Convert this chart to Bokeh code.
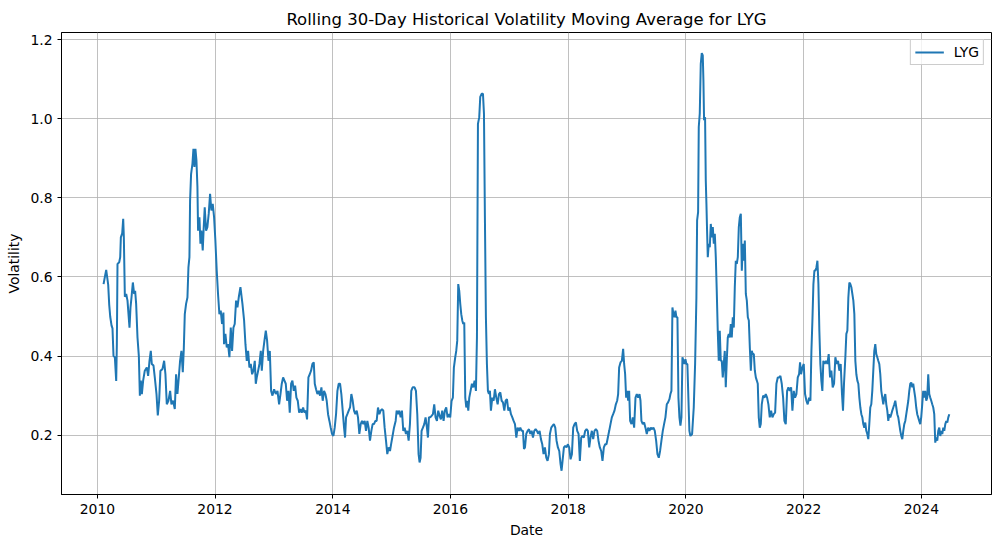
import pandas as pd
from bokeh.plotting import figure
from bokeh.models import (Range1d, FixedTicker, DatetimeTickFormatter, PrintfTickFormatter,
                          Legend, LegendItem, ColumnDataSource)
from bokeh.embed import file_html
from bokeh.resources import INLINE

# ---- data: (decimal year, 30-day rolling volatility) ----
seg_2010_2012 = [
    (2010.105, 0.582), (2010.127, 0.60), (2010.150, 0.618), (2010.184, 0.58), (2010.201, 0.53),
    (2010.218, 0.50), (2010.241, 0.477), (2010.257, 0.47), (2010.274, 0.40), (2010.297, 0.397),
    (2010.320, 0.337), (2010.331, 0.43), (2010.342, 0.633), (2010.371, 0.637), (2010.388, 0.65),
    (2010.399, 0.70), (2010.422, 0.71), (2010.439, 0.747), (2010.450, 0.70), (2010.467, 0.55),
    (2010.490, 0.557), (2010.512, 0.54), (2010.529, 0.506), (2010.546, 0.472), (2010.563, 0.523),
    (2010.580, 0.548), (2010.603, 0.586), (2010.625, 0.557), (2010.642, 0.565), (2010.659, 0.532),
    (2010.682, 0.447), (2010.705, 0.40), (2010.722, 0.30), (2010.739, 0.338), (2010.756, 0.304),
    (2010.778, 0.338), (2010.806, 0.363), (2010.840, 0.371), (2010.863, 0.35), (2010.886, 0.388),
    (2010.908, 0.413), (2010.925, 0.38), (2010.954, 0.376), (2010.976, 0.346), (2011.005, 0.304),
    (2011.027, 0.25), (2011.050, 0.287), (2011.072, 0.363), (2011.106, 0.367), (2011.135, 0.388),
    (2011.157, 0.354), (2011.180, 0.278), (2011.208, 0.287), (2011.237, 0.312), (2011.259, 0.278),
    (2011.287, 0.287), (2011.316, 0.266), (2011.338, 0.354), (2011.361, 0.304), (2011.384, 0.346),
    (2011.406, 0.388), (2011.429, 0.413), (2011.452, 0.359), (2011.469, 0.418), (2011.486, 0.506),
    (2011.508, 0.532), (2011.531, 0.548), (2011.548, 0.624), (2011.565, 0.65), (2011.576, 0.793),
    (2011.593, 0.86), (2011.616, 0.886), (2011.633, 0.924), (2011.650, 0.878), (2011.667, 0.924),
    (2011.684, 0.895), (2011.701, 0.827), (2011.712, 0.717), (2011.735, 0.751), (2011.752, 0.684),
    (2011.768, 0.717), (2011.791, 0.667), (2011.808, 0.726), (2011.825, 0.776), (2011.848, 0.717),
    (2011.870, 0.726), (2011.893, 0.76), (2011.916, 0.81), (2011.938, 0.768), (2011.961, 0.785),
    (2011.984, 0.751), (2012.006, 0.692), (2012.029, 0.616), (2012.051, 0.557), (2012.074, 0.506),
    (2012.097, 0.515), (2012.119, 0.481), (2012.142, 0.51), (2012.153, 0.43), (2012.176, 0.456),
    (2012.199, 0.422), (2012.221, 0.43), (2012.244, 0.397), (2012.267, 0.472), (2012.289, 0.413),
    (2012.312, 0.472), (2012.334, 0.481), (2012.357, 0.54), (2012.380, 0.523), (2012.402, 0.548),
    (2012.431, 0.574),
]

seg_2012_2014 = [
    (2012.465, 0.532), (2012.493, 0.49), (2012.516, 0.43), (2012.538, 0.388), (2012.561, 0.413),
    (2012.583, 0.371), (2012.606, 0.38), (2012.629, 0.354), (2012.651, 0.363), (2012.674, 0.388),
    (2012.691, 0.33), (2012.708, 0.346), (2012.731, 0.363), (2012.753, 0.38), (2012.776, 0.413),
    (2012.793, 0.363), (2012.816, 0.413), (2012.838, 0.439), (2012.861, 0.464), (2012.883, 0.439),
    (2012.906, 0.388), (2012.929, 0.413), (2012.951, 0.312), (2012.974, 0.30), (2013.002, 0.316),
    (2013.031, 0.304), (2013.059, 0.312), (2013.087, 0.278), (2013.110, 0.304), (2013.132, 0.33),
    (2013.155, 0.346), (2013.178, 0.338), (2013.200, 0.33), (2013.223, 0.287), (2013.246, 0.312),
    (2013.268, 0.257), (2013.291, 0.33), (2013.313, 0.338), (2013.336, 0.312), (2013.359, 0.325),
    (2013.381, 0.295), (2013.404, 0.287), (2013.427, 0.257), (2013.449, 0.266), (2013.472, 0.257),
    (2013.495, 0.27), (2013.517, 0.257), (2013.540, 0.262), (2013.562, 0.24), (2013.585, 0.346),
    (2013.608, 0.354), (2013.630, 0.363), (2013.653, 0.38), (2013.676, 0.384), (2013.693, 0.33),
    (2013.715, 0.316), (2013.738, 0.304), (2013.761, 0.312), (2013.783, 0.30), (2013.806, 0.321),
    (2013.828, 0.287), (2013.851, 0.312), (2013.874, 0.304), (2013.896, 0.287), (2013.919, 0.253),
    (2013.942, 0.236), (2013.964, 0.219), (2013.987, 0.203), (2014.010, 0.198), (2014.032, 0.219),
    (2014.055, 0.253), (2014.078, 0.312), (2014.100, 0.33), (2014.123, 0.33), (2014.145, 0.304),
    (2014.168, 0.262), (2014.191, 0.219), (2014.208, 0.194), (2014.225, 0.245), (2014.247, 0.253),
    (2014.270, 0.262), (2014.293, 0.27), (2014.315, 0.304), (2014.338, 0.287), (2014.360, 0.262),
    (2014.383, 0.253), (2014.406, 0.262), (2014.428, 0.245), (2014.451, 0.203), (2014.474, 0.228),
    (2014.496, 0.236), (2014.519, 0.228), (2014.542, 0.236), (2014.564, 0.211), (2014.587, 0.236),
    (2014.609, 0.219), (2014.632, 0.186), (2014.655, 0.211), (2014.677, 0.228), (2014.700, 0.228),
    (2014.723, 0.236), (2014.745, 0.236), (2014.768, 0.27), (2014.791, 0.253), (2014.813, 0.262),
    (2014.836, 0.266), (2014.858, 0.262), (2014.881, 0.219), (2014.904, 0.186), (2014.926, 0.152),
    (2014.949, 0.169), (2014.972, 0.16),
]

seg_2015_2017 = [
    (2014.994, 0.18), (2015.011, 0.194), (2015.040, 0.219), (2015.068, 0.236), (2015.085, 0.262),
    (2015.108, 0.253), (2015.130, 0.262), (2015.153, 0.245), (2015.175, 0.262), (2015.198, 0.211),
    (2015.221, 0.219), (2015.243, 0.203), (2015.266, 0.211), (2015.289, 0.186), (2015.311, 0.228),
    (2015.334, 0.312), (2015.357, 0.321), (2015.390, 0.321), (2015.413, 0.312), (2015.436, 0.253),
    (2015.458, 0.152), (2015.475, 0.131), (2015.492, 0.143), (2015.509, 0.211), (2015.532, 0.219),
    (2015.555, 0.228), (2015.577, 0.245), (2015.600, 0.219), (2015.617, 0.194), (2015.634, 0.245),
    (2015.656, 0.245), (2015.679, 0.249), (2015.702, 0.253), (2015.724, 0.278), (2015.747, 0.245),
    (2015.770, 0.236), (2015.792, 0.262), (2015.815, 0.249), (2015.837, 0.24), (2015.860, 0.262),
    (2015.883, 0.236), (2015.905, 0.262), (2015.928, 0.27), (2015.951, 0.245), (2015.973, 0.253),
    (2015.996, 0.245), (2016.019, 0.287), (2016.041, 0.295), (2016.058, 0.371), (2016.081, 0.397),
    (2016.098, 0.413), (2016.115, 0.439), (2016.132, 0.582), (2016.149, 0.565), (2016.166, 0.532),
    (2016.183, 0.506), (2016.200, 0.49), (2016.217, 0.481), (2016.234, 0.485), (2016.251, 0.295),
    (2016.268, 0.27), (2016.285, 0.287), (2016.302, 0.262), (2016.319, 0.295), (2016.341, 0.312),
    (2016.364, 0.33), (2016.387, 0.321), (2016.409, 0.338), (2016.432, 0.312), (2016.449, 0.447),
    (2016.466, 0.987), (2016.488, 1.004), (2016.505, 1.055), (2016.528, 1.063), (2016.551, 1.063),
    (2016.568, 1.013), (2016.584, 0.751), (2016.601, 0.498), (2016.618, 0.38), (2016.635, 0.312),
    (2016.652, 0.304), (2016.669, 0.312), (2016.686, 0.262), (2016.709, 0.295), (2016.732, 0.287),
    (2016.754, 0.316), (2016.777, 0.295), (2016.800, 0.278), (2016.822, 0.304), (2016.845, 0.308),
    (2016.868, 0.287), (2016.890, 0.283), (2016.913, 0.262), (2016.935, 0.287), (2016.958, 0.291),
    (2016.981, 0.262), (2017.003, 0.27), (2017.026, 0.253), (2017.049, 0.245), (2017.071, 0.236),
    (2017.094, 0.228), (2017.117, 0.194), (2017.139, 0.219), (2017.162, 0.211), (2017.184, 0.219),
    (2017.207, 0.211), (2017.230, 0.211), (2017.247, 0.165), (2017.264, 0.169), (2017.286, 0.203),
    (2017.309, 0.211), (2017.332, 0.215), (2017.354, 0.203), (2017.377, 0.211), (2017.400, 0.194),
    (2017.422, 0.211), (2017.445, 0.215), (2017.467, 0.211), (2017.490, 0.203), (2017.513, 0.211),
    (2017.535, 0.19), (2017.558, 0.177), (2017.580, 0.152), (2017.603, 0.169), (2017.626, 0.143),
    (2017.648, 0.135), (2017.671, 0.152), (2017.688, 0.203),
]

seg_2017_2020 = [
    (2017.711, 0.219), (2017.733, 0.224), (2017.756, 0.228), (2017.779, 0.219), (2017.801, 0.186),
    (2017.824, 0.169), (2017.847, 0.16), (2017.869, 0.127), (2017.886, 0.11), (2017.903, 0.135),
    (2017.926, 0.169), (2017.948, 0.173), (2017.971, 0.169), (2017.994, 0.177), (2018.016, 0.169),
    (2018.039, 0.139), (2018.062, 0.152), (2018.084, 0.219), (2018.107, 0.228), (2018.130, 0.232),
    (2018.152, 0.211), (2018.175, 0.203), (2018.197, 0.135), (2018.220, 0.194), (2018.243, 0.198),
    (2018.265, 0.194), (2018.288, 0.211), (2018.311, 0.215), (2018.333, 0.211), (2018.356, 0.169),
    (2018.378, 0.194), (2018.401, 0.211), (2018.424, 0.19), (2018.446, 0.211), (2018.469, 0.215),
    (2018.492, 0.211), (2018.514, 0.186), (2018.537, 0.169), (2018.560, 0.16), (2018.582, 0.135),
    (2018.605, 0.169), (2018.628, 0.177), (2018.650, 0.177), (2018.673, 0.194), (2018.696, 0.211),
    (2018.718, 0.228), (2018.741, 0.245), (2018.763, 0.253), (2018.786, 0.262), (2018.809, 0.278),
    (2018.831, 0.287), (2018.848, 0.304), (2018.865, 0.371), (2018.888, 0.384), (2018.911, 0.388),
    (2018.933, 0.418), (2018.950, 0.38), (2018.967, 0.354), (2018.984, 0.295), (2019.001, 0.312),
    (2019.018, 0.287), (2019.035, 0.312), (2019.052, 0.236), (2019.075, 0.228), (2019.097, 0.245),
    (2019.120, 0.219), (2019.143, 0.295), (2019.165, 0.304), (2019.188, 0.295), (2019.211, 0.304),
    (2019.228, 0.287), (2019.244, 0.236), (2019.267, 0.228), (2019.290, 0.232), (2019.312, 0.219),
    (2019.335, 0.203), (2019.358, 0.219), (2019.380, 0.211), (2019.403, 0.219), (2019.426, 0.215),
    (2019.448, 0.219), (2019.471, 0.211), (2019.494, 0.186), (2019.516, 0.152), (2019.539, 0.143),
    (2019.561, 0.16), (2019.584, 0.186), (2019.607, 0.211), (2019.629, 0.228), (2019.652, 0.245),
    (2019.675, 0.278), (2019.697, 0.283), (2019.720, 0.291), (2019.737, 0.304), (2019.754, 0.312),
    (2019.771, 0.523), (2019.788, 0.506), (2019.805, 0.498), (2019.822, 0.515), (2019.839, 0.498),
    (2019.856, 0.498), (2019.873, 0.295), (2019.890, 0.245), (2019.907, 0.224), (2019.924, 0.245),
    (2019.941, 0.397), (2019.958, 0.388), (2019.975, 0.38), (2019.992, 0.392), (2020.008, 0.38),
    (2020.025, 0.38), (2020.042, 0.295), (2020.059, 0.211), (2020.076, 0.198),
]

seg_2020_2022 = [
    (2020.105, 0.203), (2020.133, 0.27), (2020.156, 0.38), (2020.178, 0.548), (2020.190, 0.743),
    (2020.207, 0.764), (2020.218, 0.979), (2020.235, 1.013), (2020.252, 1.139), (2020.269, 1.166),
    (2020.286, 1.16), (2020.297, 1.097), (2020.308, 0.996), (2020.325, 1.004), (2020.337, 0.844),
    (2020.348, 0.785), (2020.359, 0.717), (2020.371, 0.65), (2020.388, 0.684), (2020.405, 0.675),
    (2020.422, 0.734), (2020.439, 0.70), (2020.456, 0.726), (2020.473, 0.684), (2020.490, 0.709),
    (2020.507, 0.65), (2020.523, 0.565), (2020.540, 0.464), (2020.557, 0.388), (2020.574, 0.464),
    (2020.591, 0.388), (2020.608, 0.388), (2020.625, 0.346), (2020.642, 0.38), (2020.659, 0.413),
    (2020.676, 0.321), (2020.693, 0.388), (2020.710, 0.447), (2020.727, 0.456), (2020.744, 0.447),
    (2020.761, 0.481), (2020.778, 0.447), (2020.795, 0.498), (2020.812, 0.472), (2020.829, 0.574),
    (2020.846, 0.641), (2020.863, 0.633), (2020.880, 0.65), (2020.897, 0.726), (2020.914, 0.751),
    (2020.931, 0.76), (2020.948, 0.616), (2020.965, 0.684), (2020.982, 0.641), (2020.999, 0.692),
    (2021.016, 0.557), (2021.033, 0.54), (2021.050, 0.498), (2021.067, 0.49), (2021.084, 0.422),
    (2021.101, 0.363), (2021.117, 0.413), (2021.134, 0.405), (2021.152, 0.405), (2021.169, 0.363),
    (2021.186, 0.346), (2021.203, 0.338), (2021.219, 0.33), (2021.236, 0.245), (2021.253, 0.219),
    (2021.270, 0.228), (2021.287, 0.278), (2021.310, 0.30), (2021.333, 0.295), (2021.355, 0.304),
    (2021.378, 0.295), (2021.400, 0.278), (2021.423, 0.245), (2021.446, 0.262), (2021.468, 0.245),
    (2021.491, 0.253), (2021.514, 0.257), (2021.536, 0.33), (2021.559, 0.346), (2021.582, 0.346),
    (2021.604, 0.35), (2021.627, 0.33), (2021.650, 0.295), (2021.672, 0.236), (2021.695, 0.228),
    (2021.718, 0.312), (2021.740, 0.321), (2021.763, 0.312), (2021.786, 0.321), (2021.808, 0.262),
    (2021.831, 0.312), (2021.853, 0.295), (2021.876, 0.304), (2021.899, 0.346), (2021.921, 0.354),
    (2021.938, 0.384), (2021.955, 0.354), (2021.978, 0.371), (2022.001, 0.38), (2022.023, 0.304),
    (2022.046, 0.287), (2022.068, 0.278), (2022.091, 0.295), (2022.114, 0.287), (2022.131, 0.413),
    (2022.148, 0.49), (2022.165, 0.582), (2022.182, 0.616), (2022.199, 0.616), (2022.216, 0.624),
    (2022.233, 0.641), (2022.250, 0.582), (2022.266, 0.464), (2022.283, 0.38), (2022.300, 0.338),
    (2022.317, 0.312), (2022.334, 0.388), (2022.357, 0.38), (2022.380, 0.388), (2022.403, 0.38),
    (2022.425, 0.405), (2022.448, 0.346), (2022.470, 0.363), (2022.493, 0.321), (2022.516, 0.33),
    (2022.538, 0.397), (2022.561, 0.38), (2022.584, 0.388), (2022.606, 0.363), (2022.629, 0.38),
]

seg_2022_2024 = [
    (2022.651, 0.304), (2022.668, 0.262), (2022.685, 0.33), (2022.708, 0.397), (2022.725, 0.456),
    (2022.742, 0.464), (2022.759, 0.548), (2022.776, 0.586), (2022.793, 0.582), (2022.810, 0.574),
    (2022.827, 0.557), (2022.844, 0.54), (2022.861, 0.506), (2022.878, 0.388), (2022.895, 0.354),
    (2022.912, 0.338), (2022.929, 0.33), (2022.946, 0.295), (2022.963, 0.27), (2022.980, 0.253),
    (2022.997, 0.245), (2023.013, 0.228), (2023.030, 0.219), (2023.047, 0.232), (2023.064, 0.211),
    (2023.081, 0.203), (2023.098, 0.19), (2023.115, 0.228), (2023.132, 0.27), (2023.149, 0.278),
    (2023.166, 0.312), (2023.183, 0.363), (2023.200, 0.413), (2023.217, 0.43), (2023.234, 0.405),
    (2023.251, 0.397), (2023.268, 0.388), (2023.285, 0.38), (2023.302, 0.354), (2023.319, 0.312),
    (2023.336, 0.295), (2023.353, 0.278), (2023.370, 0.295), (2023.387, 0.304), (2023.404, 0.278),
    (2023.421, 0.262), (2023.438, 0.236), (2023.455, 0.253), (2023.472, 0.245), (2023.489, 0.253),
    (2023.506, 0.262), (2023.523, 0.27), (2023.540, 0.278), (2023.557, 0.287), (2023.574, 0.27),
    (2023.591, 0.253), (2023.608, 0.245), (2023.625, 0.228), (2023.642, 0.211), (2023.659, 0.198),
    (2023.676, 0.19), (2023.693, 0.211), (2023.710, 0.228), (2023.727, 0.236), (2023.744, 0.253),
    (2023.761, 0.27), (2023.778, 0.287), (2023.795, 0.312), (2023.812, 0.33), (2023.829, 0.333),
    (2023.846, 0.321), (2023.862, 0.33), (2023.879, 0.312), (2023.896, 0.295), (2023.913, 0.27),
    (2023.930, 0.253), (2023.947, 0.245), (2023.964, 0.236), (2023.981, 0.228), (2023.998, 0.245),
    (2024.015, 0.278), (2024.032, 0.312), (2024.049, 0.295), (2024.066, 0.312), (2024.083, 0.287),
    (2024.100, 0.295), (2024.117, 0.354), (2024.134, 0.304), (2024.151, 0.295), (2024.168, 0.287),
    (2024.185, 0.278), (2024.202, 0.27), (2024.219, 0.253), (2024.236, 0.181), (2024.253, 0.194),
    (2024.270, 0.186), (2024.287, 0.211), (2024.304, 0.219), (2024.321, 0.198), (2024.338, 0.211),
    (2024.355, 0.203), (2024.372, 0.219), (2024.389, 0.211), (2024.406, 0.228), (2024.423, 0.236),
    (2024.440, 0.232), (2024.457, 0.245), (2024.474, 0.253),
]

ticker_label = "LYG"
x_tick_years = [2010, 2012, 2014, 2016, 2018, 2020, 2022, 2024]
y_ticks = [0.2, 0.4, 0.6, 0.8, 1.0, 1.2]


def year_to_ts(y):
    yi = int(y)
    start = pd.Timestamp(yi, 1, 1)
    end = pd.Timestamp(yi + 1, 1, 1)
    return start + (end - start) * (y - yi)


points = seg_2010_2012 + seg_2012_2014 + seg_2015_2017 + seg_2017_2020 + seg_2020_2022 + seg_2022_2024
dates = [year_to_ts(t) for t, _ in points]
vols = [v for _, v in points]
src = ColumnDataSource(data=dict(date=dates, vol=vols))

FONT = "DejaVu Sans"

p = figure(
    x_axis_type="datetime",
    frame_width=930, frame_height=462,
    min_border_left=61, min_border_right=8, min_border_top=32, min_border_bottom=50,
    output_backend="svg", toolbar_location=None,
    title="Rolling 30-Day Historical Volatility Moving Average for LYG",
    x_range=Range1d(year_to_ts(2009.39), year_to_ts(2025.19)),
    y_range=Range1d(0.05, 1.218),
    background_fill_color="white", border_fill_color="white",
)

r = p.line(x="date", y="vol", source=src, line_color="#1f77b4", line_width=2)

# title
p.title.text_font = FONT
p.title.text_font_size = "16.5px"
p.title.text_font_style = "normal"
p.title.align = "center"
p.title.text_color = "black"
p.title.standoff = 8

# axes
xt = FixedTicker(ticks=[pd.Timestamp(y, 1, 1).value / 1e6 for y in x_tick_years])
p.xaxis.ticker = xt
p.xaxis.formatter = DatetimeTickFormatter(years="%Y", months="%Y", days="%Y", hours="%Y",
                                          minutes="%Y", seconds="%Y", milliseconds="%Y")
p.yaxis.ticker = FixedTicker(ticks=y_ticks)
p.yaxis.formatter = PrintfTickFormatter(format="%.1f")
p.xaxis.axis_label = "Date"
p.yaxis.axis_label = "Volatility"

for ax in (p.xaxis, p.yaxis):
    ax.axis_label_text_font = FONT
    ax.axis_label_text_font_size = "13.9px"
    ax.axis_label_text_font_style = "normal"
    ax.axis_label_text_color = "black"
    ax.major_label_text_font = FONT
    ax.major_label_text_font_size = "13.9px"
    ax.major_label_text_color = "black"
    ax.axis_line_color = "black"
    ax.axis_line_width = 1
    ax.major_tick_line_color = "black"
    ax.major_tick_line_width = 1
    ax.major_tick_out = 4
    ax.major_tick_in = 0
    ax.minor_tick_line_color = None
    ax.major_label_standoff = 5
    ax.axis_label_standoff = 5

p.outline_line_color = "black"
p.outline_line_width = 1
p.outline_line_alpha = 1

p.xgrid.grid_line_color = "#b0b0b0"
p.ygrid.grid_line_color = "#b0b0b0"
p.xgrid.grid_line_width = 0.8
p.ygrid.grid_line_width = 0.8

legend = Legend(items=[LegendItem(label=ticker_label, renderers=[r])], location="top_right")
legend.label_text_font = FONT
legend.label_text_font_size = "13.9px"
legend.label_text_color = "black"
legend.border_line_color = "#cccccc"
legend.border_line_alpha = 1
legend.background_fill_alpha = 0.8
legend.glyph_width = 29
legend.glyph_height = 14
legend.label_standoff = 10
legend.padding = 4
legend.margin = 7
legend.spacing = 0
p.add_layout(legend)

open("out.html", "w").write(file_html(p, INLINE))
